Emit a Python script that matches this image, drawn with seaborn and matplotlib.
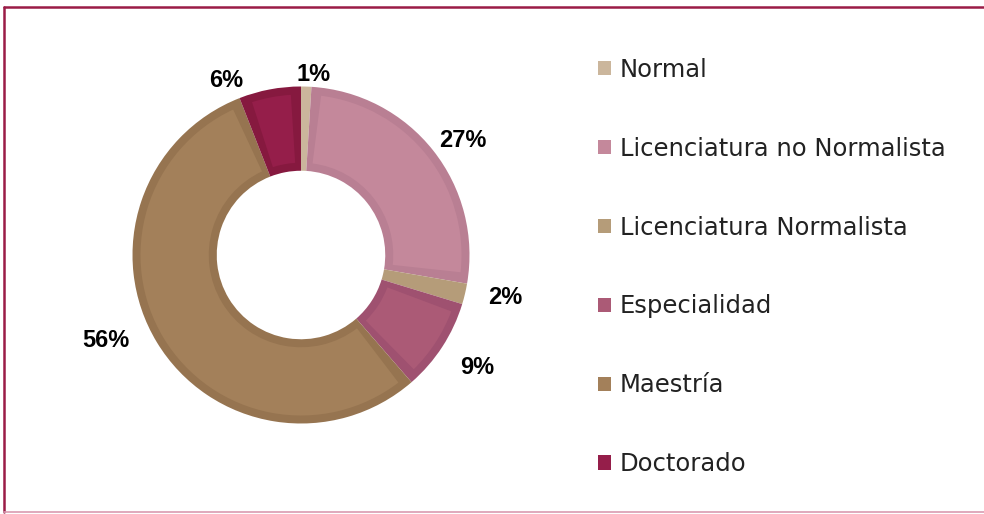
import numpy as np
import matplotlib
matplotlib.use("Agg")
import matplotlib.pyplot as plt
import seaborn as sns
from matplotlib import font_manager as fm
from matplotlib.patches import Patch, Wedge
from matplotlib.lines import Line2D

categories = ["Normal", "Licenciatura no Normalista", "Licenciatura Normalista",
              "Especialidad", "Maestría", "Doctorado"]
values = [1, 27, 2, 9, 56, 6]
pct_labels = ["1%", "27%", "2%", "9%", "56%", "6%"]

colors = ["#cbb69c", "#c4889b", "#b59c79", "#ab5a76", "#a3805a", "#951e4a"]
edge_colors = ["#c0aa90", "#b97f93", "#a88f6d", "#9f5170", "#967450", "#86193f"]
label_angle_shift = [-2.1, -2.6, 2.3, 1.0, -7.9, 12.3]   # degrees, label nudges
label_dist = [1.086, 1.184, 1.237, 1.233, 1.258, 1.138]

sns.set_theme(style="white")
plt.rcParams["font.family"] = ["DejaVu Sans"]

# bold sans (non-narrow) for the percentage labels
bold_path = None
for f in fm.fontManager.ttflist:
    if f.name == "Liberation Sans" and "Narrow" not in f.fname and "Bold" in f.fname \
            and "Italic" not in f.fname:
        bold_path = f.fname
        break
if bold_path:
    pct_font = fm.FontProperties(fname=bold_path, size=17)
else:
    pct_font = fm.FontProperties(family="DejaVu Sans", weight="bold", size=15)

fig = plt.figure(figsize=(9.84, 5.14), dpi=100)
fig.patch.set_facecolor("white")

L = 1.3
R_px = 168.5
ax_px = 2 * L * R_px
cx, cy = 301, 514 - 255
ax = fig.add_axes([(cx - ax_px / 2) / 984, (cy - ax_px / 2) / 514, ax_px / 984, ax_px / 514])

ring = 0.5
band = 8 / R_px
wedges, _ = ax.pie(values, colors=edge_colors, startangle=90, counterclock=False,
                   radius=1.0, wedgeprops=dict(width=ring, linewidth=0))
# lighter inner fill of each wedge (leaves a darker band along the edges)
rmid = 1 - ring / 2
dtheta = np.rad2deg(band / rmid)
for w, c in zip(wedges, colors):
    span = w.theta2 - w.theta1
    if span > 3 * dtheta:
        ax.add_patch(Wedge((0, 0), 1 - band, w.theta1 + dtheta, w.theta2 - dtheta,
                           width=ring - 2 * band, facecolor=c, linewidth=0))
    else:
        w.set_facecolor(c)

cap_off = -0.36 * pct_font.get_size_in_points()
for w, lab, sh, d in zip(wedges, pct_labels, label_angle_shift, label_dist):
    ang = np.deg2rad((w.theta1 + w.theta2) / 2 + sh)
    ax.annotate(lab, (d * np.cos(ang), d * np.sin(ang)), xytext=(0, cap_off),
                textcoords="offset points", ha="center", va="baseline",
                fontproperties=pct_font, color="black")

ax.set_xlim(-L, L)
ax.set_ylim(-L, L)
ax.set_aspect("equal")
ax.axis("off")

handles = [Patch(facecolor=c, edgecolor="none") for c in colors]
leg = fig.legend(handles, categories, loc="upper left",
                 bbox_to_anchor=(598 / 984, 1 - 58 / 514), frameon=False,
                 fontsize=17.5, handlelength=0.52, handleheight=0.52,
                 handletextpad=0.38, labelspacing=2.256, borderpad=0, borderaxespad=0)
for t in leg.get_texts():
    t.set_color("#222222")

# frame
fig.add_artist(Line2D([4 / 984, 4 / 984], [1 - 7 / 514, 1 - 512 / 514],
                      transform=fig.transFigure, color="#9b1c47", lw=1.8))
fig.add_artist(Line2D([4 / 984, 1.0], [1 - 7 / 514, 1 - 7 / 514],
                      transform=fig.transFigure, color="#9b1c47", lw=1.8))
fig.add_artist(Line2D([4 / 984, 1.0], [1 - 512 / 514, 1 - 512 / 514],
                      transform=fig.transFigure, color="#d99bb0", lw=1.2))

fig.savefig("out.png", dpi=100, facecolor="white")
